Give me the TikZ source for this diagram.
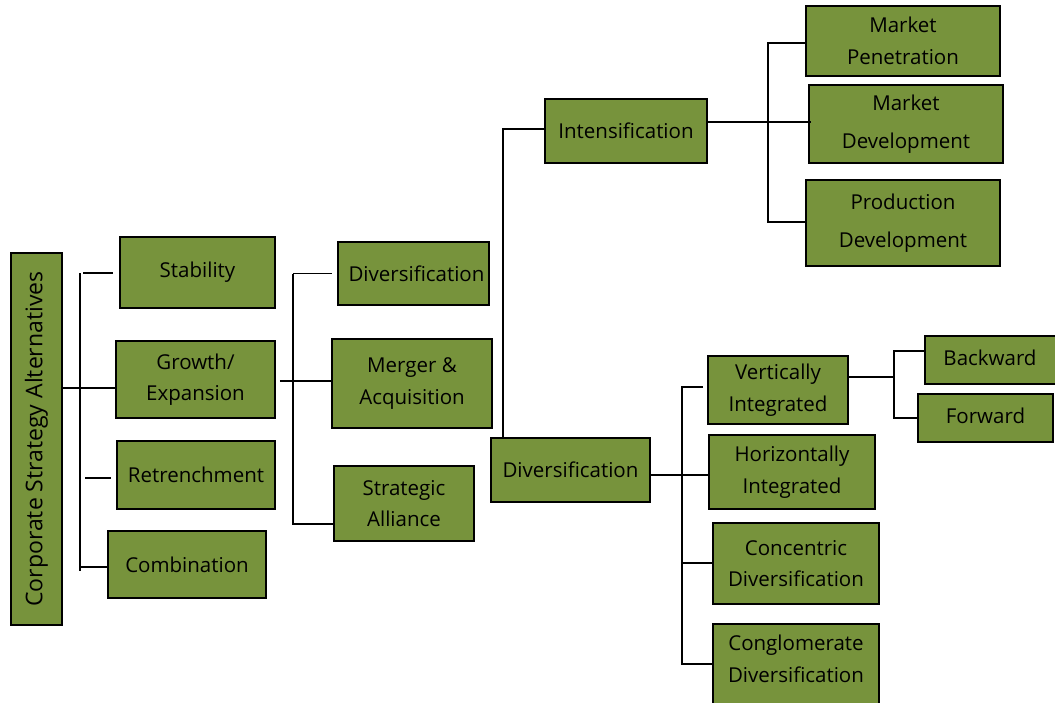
\documentclass[tikz,border=0pt]{standalone}
\usepackage{fontspec}
\setmainfont{Open Sans}
\usepackage{tikz}
\usetikzlibrary{positioning}
\definecolor{olive}{HTML}{77933C}

\begin{document}
\begin{tikzpicture}[x=1pt, y=-1pt]
      \tikzset{box/.style={draw, fill=olive, line width=1.6pt, inner sep=0pt, align=center, font=\fontsize{20.5}{31.5}\selectfont}, link/.style={draw, line width=1.4pt}}
      \clip (0,0) rectangle (1055,702);
      \fill[white] (0,0) rectangle (1055,702);
      % root and first level
      \node[box, minimum width=51pt, minimum height=372pt, font=\fontsize{23}{28}\selectfont] (csa) at (36.5,439) {\rotatebox{90}{Corporate Strategy Alternatives}};
      \node[box, minimum width=155pt, minimum height=71pt] (stab) at (197.5,272.5) {Stability};
      \node[box, minimum width=159pt, minimum height=77pt] (grow) at (195.5,379.5) {Growth/\\Expansion};
      \node[box, minimum width=158pt, minimum height=68pt] (retr) at (196,475) {Retrenchment};
      \node[box, minimum width=158pt, minimum height=67pt] (comb) at (187,564.5) {Combination};
      % growth
      \node[box, minimum width=151pt, minimum height=63pt] (div) at (413.5,273.5) {\hspace*{6pt}Diversification};
      \node[box, minimum width=160pt, minimum height=89pt] (merg) at (412,383.5) {Merger \&\\Acquisition};
      \node[box, minimum width=140pt, minimum height=75pt] (alli) at (404,503.5) {Strategic\\Alliance};
      % intensification
      \node[box, minimum width=162pt, minimum height=64pt] (intn) at (626,131) {Intensification};
      \node[box, minimum width=194pt, minimum height=70pt] (mpen) at (903,41) {Market\\Penetration};
      \node[box, minimum width=194pt, minimum height=78pt] (mdev) at (906,124) {Market\\[6pt]Development};
      \node[box, minimum width=194pt, minimum height=86pt] (pdev) at (903,223) {Production\\[6pt]Development};
      % diversification
      \node[box, minimum width=159pt, minimum height=64pt] (div2) at (570.5,470) {Diversification};
      \node[box, minimum width=140pt, minimum height=68pt] (vert) at (778,390) {Vertically\\Integrated};
      \node[box, minimum width=166pt, minimum height=74pt] (horz) at (792,472) {Horizontally\\Integrated};
      \node[box, minimum width=166pt, minimum height=81pt] (conc) at (796,563.5) {Concentric\\Diversification};
      \node[box, minimum width=166pt, minimum height=82pt] (cong) at (796,665) {Conglomerate\\Diversification\\[-19pt]};
      \node[box, minimum width=140pt, minimum height=48pt] (back) at (995,360) {\raisebox{4pt}{Backward}\hspace*{10pt}};
      \node[box, minimum width=135pt, minimum height=48pt] (forw) at (985.5,418) {\raisebox{4pt}{Forward}};

      \coordinate (b1) at (80,388);
      \coordinate (b2) at (293,381);
      \coordinate (b3) at (503,129);
      \coordinate (b4) at (768,122);
      \coordinate (b5) at (682,475);
      \coordinate (b6) at (894,377);

      \draw[link] (80,273) -- (80,571);
      \draw[link] (csa.east |- b1) -- (grow.west |- b1);
      \draw[link] (83,273) -- ([xshift=-6pt]stab.west |- 0,273);
      \draw[link] (85,478) -- ([xshift=-5pt]retr.west |- 0,478);
      \draw[link] (80,567) -- (comb.west |- 0,567);

      \draw[link] (b2 |- div.west) -- ([xshift=-5pt]div.west);
      \draw[link] ([xshift=4pt]grow.east |- b2) -- (merg.west |- b2);
      \draw[link] (b2 |- div.west) -- (b2 |- 0,524) -- (alli.west |- 0,524);

      \draw[link] (div2.north -| b3) -- (b3) -- (intn.west |- b3);
      \draw[link] (intn.east |- b4) -- ([xshift=3pt]mdev.west |- b4);
      \draw[link] (mpen.west |- 0,43) -- (768,43) -- (768,222) -- (pdev.west |- 0,222);

      \draw[link] (div2.east |- b5) -- (horz.west |- b5);
      \draw[link] ([xshift=-4pt]vert.west |- 0,387) -- (682,387) -- (682,664) -- (cong.west |- 0,664);
      \draw[link] (682,563) -- (conc.west |- 0,563);

      \draw[link] (vert.east |- b6) -- (b6);
      \draw[link] (back.west |- 0,351) -- (894,351) -- (894,418) -- (forw.west |- 0,418);
    \end{tikzpicture}
\end{document}
